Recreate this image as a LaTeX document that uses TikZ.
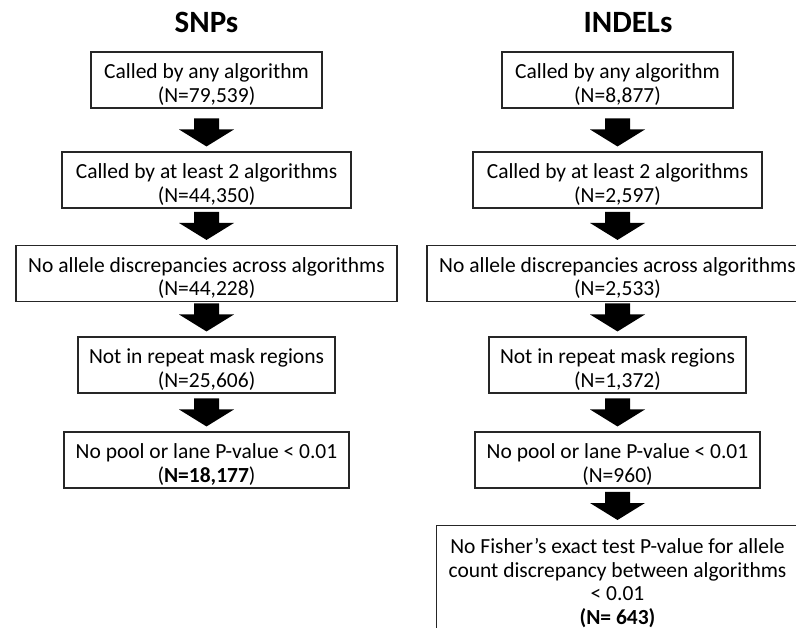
\documentclass[tikz,border=0pt]{standalone}
\usepackage{fontspec}
\setmainfont{Carlito}
\usetikzlibrary{calc}
\newcommand\flstrut{\rule{0pt}{24pt}}
\newcommand\flowarrow[2]{%
  \fill[black] let \p1=(#1.south), \p2=(#2.north) in
    (\x1-12.5pt,\y2+33pt) -- (\x1+12.5pt,\y2+33pt) -- (\x1+12.5pt,\y2+22pt) --
    (\x1+27.5pt,\y2+22pt) -- (\x1,\y2+5pt) -- (\x1-27.5pt,\y2+22pt) --
    (\x1-12.5pt,\y2+22pt) -- cycle;}
\begin{document}
\begin{tikzpicture}[x=1pt,y=-1pt,
  box/.style={draw=black!85, line width=1.1pt, minimum height=56pt, inner sep=0pt,
    align=center, font=\fontsize{21.5}{23.5}\selectfont},
  title/.style={font=\fontsize{31}{36}\selectfont\bfseries, anchor=base, inner sep=0pt}]
\useasboundingbox (0,0) rectangle (796,628);
\clip (0,0) rectangle (796,628);
\fill[white] (0,0) rectangle (796,628);

\node[title] (t1) at (206.5,33) {SNPs};
\node[title] (t2) at (628,33) {INDELs};

% SNP column
\node[box, minimum width=231pt] (s1) at (206.5,80) {\flstrut Called by any algorithm\\(N=79,539)};
\node[box, minimum width=289pt] (s2) at (206.5,180) {\flstrut Called by at least 2 algorithms\\(N=44,350)};
\node[box, minimum width=381pt] (s3) at (206.5,273.5) {\flstrut No allele discrepancies across algorithms\\(N=44,228)};
\node[box, minimum width=257pt] (s4) at (206.5,365) {\flstrut Not in repeat mask regions\\(N=25,606)};
\node[box, minimum width=285pt] (s5) at (206.5,460) {\flstrut No pool or lane P-value < 0.01\\(\textbf{N=18,177})};

% INDEL column
\node[box, minimum width=231pt] (i1) at (617.5,80) {\flstrut Called by any algorithm\\(N=8,877)};
\node[box, minimum width=289pt] (i2) at (617.5,180) {\flstrut Called by at least 2 algorithms\\(N=2,597)};
\node[box, minimum width=381pt] (i3) at (617.5,273.5) {\flstrut No allele discrepancies across algorithms\\(N=2,533)};
\node[box, minimum width=257pt] (i4) at (617.5,365) {\flstrut Not in repeat mask regions\\(N=1,372)};
\node[box, minimum width=285pt] (i5) at (617.5,460) {\flstrut No pool or lane P-value < 0.01\\(N=960)};
\node[box, minimum width=362pt, anchor=north, inner ysep=4pt] (i6) at (617.5,525)
  {\flstrut No Fisher’s exact test P-value for allele\\count discrepancy between algorithms\\< 0.01\\\textbf{(N= 643)}\rule[-20pt]{0pt}{0pt}};

\flowarrow{s1}{s2}
\flowarrow{s2}{s3}
\flowarrow{s3}{s4}
\flowarrow{s4}{s5}
\flowarrow{i1}{i2}
\flowarrow{i2}{i3}
\flowarrow{i3}{i4}
\flowarrow{i4}{i5}
\flowarrow{i5}{i6}
\end{tikzpicture}
\end{document}
